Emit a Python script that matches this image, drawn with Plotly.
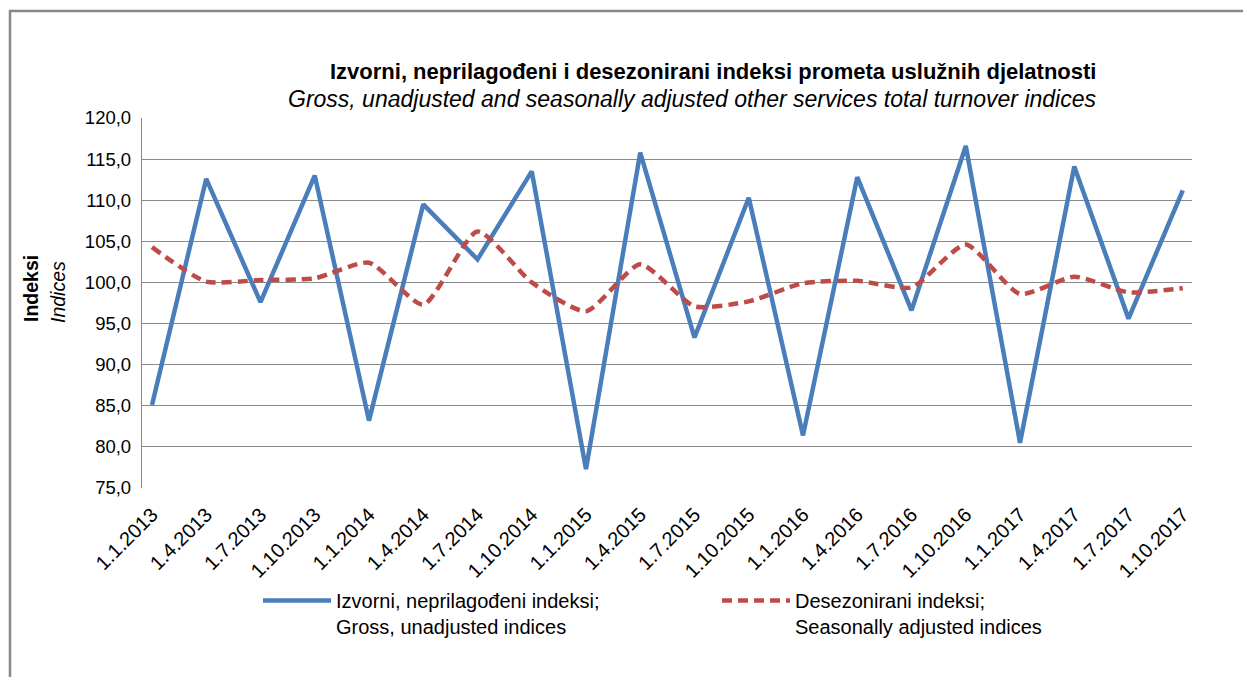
import plotly.graph_objects as go

categories = ["1.1.2013", "1.4.2013", "1.7.2013", "1.10.2013",
              "1.1.2014", "1.4.2014", "1.7.2014", "1.10.2014",
              "1.1.2015", "1.4.2015", "1.7.2015", "1.10.2015",
              "1.1.2016", "1.4.2016", "1.7.2016", "1.10.2016",
              "1.1.2017", "1.4.2017", "1.7.2017", "1.10.2017"]

gross = [85.1, 112.6, 97.6, 113.0,
         83.2, 109.5, 102.8, 113.5,
         77.3, 115.8, 93.3, 110.3,
         81.4, 112.8, 96.6, 116.6,
         80.5, 114.1, 95.6, 111.2]

seasonal = [104.3, 100.1, 100.3, 100.5,
            102.4, 97.3, 106.2, 100.0,
            96.5, 102.2, 97.1, 97.7,
            99.9, 100.2, 99.4, 104.6,
            98.6, 100.7, 98.8, 99.3]

y_ticks = [75, 80, 85, 90, 95, 100, 105, 110, 115, 120]

FONT = "Liberation Sans, Arial, sans-serif"

# page body has an 8px default margin; compensate so the picture lands on target pixels
OFF = 8
W, H = 1251 - OFF, 677 - OFF
L, R, T, B = 142 - OFF, 59, 118 - OFF, 189
pw, ph = W - L - R, H - T - B


def px(x):
    return (x - OFF - L) / pw


def py(y):
    return (H - B - (y - OFF)) / ph


fig = go.Figure()
fig.add_trace(go.Scatter(
    x=list(range(len(categories))), y=gross, mode="lines",
    name="Izvorni, neprilagođeni indeksi;<br>Gross, unadjusted indices",
    line=dict(color="#4A7EBB", width=4.5),
    legend="legend",
))
fig.add_trace(go.Scatter(
    x=list(range(len(categories))), y=seasonal, mode="lines",
    name="Desezonirani indeksi;<br>Seasonally adjusted indices",
    line=dict(color="#BE4B48", width=4.5, dash="10px,6px", shape="spline", smoothing=0.6),
    legend="legend2",
))

leg_common = dict(
    orientation="v", yanchor="top", xanchor="left",
    font=dict(family=FONT, size=20, color="black"),
    valign="top", itemwidth=68, tracegroupgap=0, bgcolor="rgba(0,0,0,0)",
)

fig.update_layout(
    width=W, height=H,
    margin=dict(l=L, r=R, t=T, b=B),
    paper_bgcolor="white", plot_bgcolor="white",
    separators=", ",
    font=dict(family=FONT, size=18, color="black"),
    showlegend=True,
    legend=dict(x=px(258), y=py(581), **leg_common),
    legend2=dict(x=px(717), y=py(581), **leg_common),
    xaxis=dict(
        range=[-0.184, 19.17],
        tickmode="array", tickvals=list(range(len(categories))), ticktext=categories,
        tickangle=-45, showgrid=False, zeroline=False,
        showline=False, ticks="", ticklabelstandoff=10,
        tickfont=dict(family=FONT, size=20, color="black"),
    ),
    yaxis=dict(
        range=[75, 120], tickmode="array", tickvals=y_ticks,
        tickformat=".1f", showgrid=True, gridcolor="#8A8A8A", gridwidth=1.3,
        zeroline=False, showline=True, linecolor="#8A8A8A", linewidth=1.3,
        ticks="", ticklabelstandoff=6,
        tickfont=dict(family=FONT, size=18.5, color="black"),
    ),
)

# chart frame
fig.add_shape(type="rect", xref="paper", yref="paper",
              x0=px(10), x1=px(1290), y0=py(720), y1=py(11),
              line=dict(color="#888888", width=2.5), fillcolor="rgba(0,0,0,0)", layer="below")

# titles (right-aligned like the reference)
fig.add_annotation(xref="paper", yref="paper", x=px(1098), y=py(72),
                   text="<b>Izvorni, neprilagođeni i desezonirani indeksi prometa uslužnih djelatnosti</b>",
                   showarrow=False, xanchor="right", yanchor="middle",
                   font=dict(family=FONT, size=22, color="black"))
fig.add_annotation(xref="paper", yref="paper", x=px(1099), y=py(99),
                   text="<i>Gross, unadjusted and seasonally adjusted other services total turnover indices</i>",
                   showarrow=False, xanchor="right", yanchor="middle",
                   font=dict(family=FONT, size=23, color="black"))

# y-axis title
fig.add_annotation(xref="paper", yref="paper", x=px(31), y=py(289),
                   text="<b>Indeksi</b>", textangle=-90, showarrow=False,
                   xanchor="center", yanchor="middle",
                   font=dict(family=FONT, size=19.5, color="black"))
fig.add_annotation(xref="paper", yref="paper", x=px(58), y=py(292),
                   text="<i>Indices</i>", textangle=-90, showarrow=False,
                   xanchor="center", yanchor="middle",
                   font=dict(family=FONT, size=19.5, color="black"))

fig.write_html("out.html")
